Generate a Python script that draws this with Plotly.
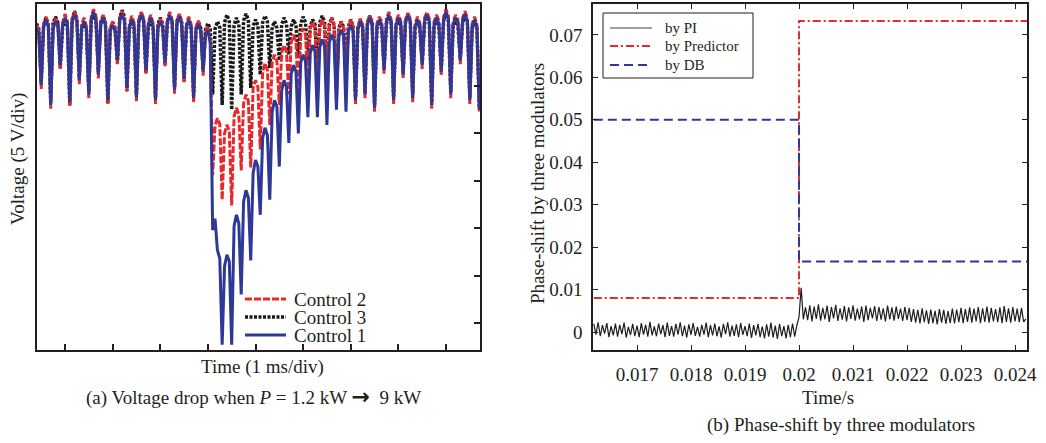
import numpy as np
import plotly.graph_objects as go

W, H = 1046, 443

# ---------------- (a) Voltage drop ----------------
# Knot samples every 0.1 ms from 0.4 ms (alternating crest / dip),
# plus one shoulder sample half-way between consecutive knots.
t_ms = np.round(0.4 + 0.05 * np.arange(187), 2)

control1_knots = [  # blue solid
    31.1, 25.1, 32.0, 23.0, 31.8, 27.2, 32.2, 23.3, 32.5, 25.6, 31.8, 24.1, 32.8, 26.2, 32.2, 23.5,
    31.4, 27.7, 32.6, 24.8, 32.0, 23.8, 32.5, 26.7, 32.2, 23.5, 31.8, 27.5, 32.5, 24.6, 32.3, 25.8,
    32.0, 23.7, 31.5, 26.5, 30.9,
    9.8, 7.7, -2.3, 7.2, -2.3, 11.4, 3.0, 14.0, 6.6, 17.2, 11.4, 20.6, 13.0, 23.5, 16.5, 25.6,
    19.0, 27.2, 20.0, 28.3, 21.7, 29.3, 21.7, 29.9, 20.9, 30.4, 22.5, 30.9, 22.3, 31.4,
    23.5, 31.8, 24.1, 32.2, 22.7, 32.0, 26.7, 32.5, 23.5, 32.2, 26.2, 32.4, 23.7, 32.0, 27.2,
    32.5, 23.0, 32.2, 26.5, 32.8, 24.1, 32.2, 27.7, 32.6, 23.5, 32.0, 22.5,
]
control1_shoulders = [
    30.6, 31.2, 31.3, 31.0, 31.5, 31.4, 31.6, 31.8, 31.9, 31.2, 31.0, 32.0, 32.1, 31.5, 31.4, 30.8,
    30.9, 31.9, 31.8, 31.2, 31.4, 31.7, 31.9, 31.5, 31.3, 31.0, 31.2, 31.8, 31.7, 31.6, 31.5, 31.3,
    31.2, 30.9, 30.8, 30.3,
    29.5,
    11.0, 6.8, 6.0, 6.5, 10.2, 10.5, 12.8, 13.2, 15.8, 16.5, 19.5, 19.8, 22.3, 22.8, 24.5, 24.9,
    26.3, 26.5, 27.5, 27.6, 28.5, 28.6, 29.1, 29.2, 29.6, 29.8, 30.2, 30.3, 30.7, 30.8,
    31.0, 31.2, 31.5, 31.4, 31.3, 31.5, 31.8, 31.7, 31.4, 31.6, 31.7, 31.8, 31.2, 31.4, 31.9,
    31.8, 31.5, 31.6, 32.0, 32.1, 31.5, 31.7, 31.9, 31.8, 31.3, 31.2,
]

control2_knots = [  # red dashed
    31.4, 24.7, 32.3, 22.6, 32.1, 26.8, 32.6, 22.9, 32.8, 25.2, 32.2, 23.7, 33.1, 25.8, 32.5, 23.1,
    31.8, 27.3, 32.9, 24.4, 32.4, 23.4, 32.8, 26.3, 32.5, 23.1, 32.1, 27.1, 32.8, 24.2, 32.6, 25.4,
    32.3, 23.3, 31.9, 26.1, 31.3,
    15.6, 21.6, 13.0, 20.9, 12.4, 22.7, 16.1, 24.1, 16.4, 25.6, 18.3, 27.4, 20.9, 28.3, 23.0, 29.3,
    24.1, 30.4, 23.5, 31.1, 25.1, 31.8, 23.0, 32.0, 25.6, 32.2, 23.5, 31.8, 26.2, 32.0,
    23.1, 32.1, 23.7, 32.5, 22.3, 32.3, 26.3, 32.8, 23.1, 32.5, 25.8, 32.7, 23.3, 32.3, 26.8,
    32.8, 22.6, 32.5, 26.1, 33.1, 23.7, 32.5, 27.3, 32.9, 23.1, 32.3, 22.1,
]
control2_shoulders = [
    30.9, 31.5, 31.6, 31.3, 31.8, 31.7, 31.9, 32.1, 32.2, 31.5, 31.3, 32.3, 32.4, 31.8, 31.7, 31.1,
    31.2, 32.2, 32.1, 31.5, 31.7, 32.0, 32.2, 31.8, 31.6, 31.3, 31.5, 32.1, 32.0, 31.9, 31.8, 31.6,
    31.5, 31.2, 31.1, 30.6,
    29.8,
    20.8, 21.0, 20.0, 20.2, 21.8, 22.0, 23.2, 23.4, 24.8, 24.9, 26.5, 26.7, 27.5, 27.6, 28.5, 28.6,
    29.6, 29.7, 30.3, 30.4, 31.0, 31.1, 31.2, 31.3, 31.4, 31.5, 31.0, 31.1, 31.2, 31.3,
    31.3, 31.5, 31.8, 31.7, 31.6, 31.8, 32.1, 32.0, 31.7, 31.9, 32.0, 32.1, 31.5, 31.7, 32.2,
    32.1, 31.8, 31.9, 32.3, 32.4, 31.8, 32.0, 32.2, 32.1, 31.6, 31.5,
]

control3_knots = [  # black dotted
    31.6, 25.4, 32.2, 23.4, 32.3, 26.9, 31.9, 23.0, 32.9, 25.9, 31.5, 24.4, 32.6, 26.5, 32.4, 23.2,
    31.7, 27.4, 33.0, 24.5, 31.8, 24.1, 32.7, 26.4, 31.9, 23.8, 32.2, 27.2, 32.3, 24.9, 32.5, 25.5,
    31.8, 24.0, 31.8, 26.8, 31.6,
    24.1, 31.8, 23.0, 32.5, 22.5, 32.2, 24.1, 32.6, 24.8, 32.0, 26.2, 32.4, 26.9, 31.8, 27.7, 32.2,
    28.3, 32.0, 28.0, 32.3, 27.5, 32.0, 26.7, 32.4, 25.6, 32.2, 24.6, 31.8, 26.7, 32.0,
    23.8, 31.9, 24.3, 32.4, 23.0, 31.8, 26.9, 32.3, 23.8, 32.0, 26.4, 32.6, 24.0, 31.8, 27.4,
    32.3, 23.3, 32.0, 26.8, 32.6, 24.4, 32.0, 27.9, 32.4, 23.8, 31.8, 22.8,
]
control3_shoulders = [
    31.0, 31.4, 31.5, 31.6, 31.7, 31.2, 31.3, 32.0, 32.1, 31.0, 30.9, 31.8, 31.9, 31.7, 31.6, 31.0,
    31.1, 32.2, 32.3, 31.0, 31.1, 31.9, 32.0, 31.2, 31.2, 31.5, 31.6, 31.6, 31.7, 31.8, 31.7, 31.1,
    31.0, 31.0, 31.1, 30.9,
    31.0,
    31.0, 31.2, 31.7, 31.8, 31.4, 31.5, 31.9, 32.0, 31.3, 31.4, 31.7, 31.8, 31.2, 31.1, 31.5, 31.6,
    31.3, 31.4, 31.6, 31.7, 31.3, 31.5, 31.7, 31.8, 31.5, 31.4, 31.1, 31.2, 31.3, 31.2,
    31.1, 31.2, 31.6, 31.7, 31.1, 31.1, 31.6, 31.7, 31.3, 31.4, 31.9, 31.9, 31.1, 31.1, 31.6,
    31.6, 31.3, 31.4, 31.9, 31.8, 31.3, 31.4, 31.7, 31.6, 31.1, 31.0,
]

volt_ticks = [0, 5, 10, 15, 20, 25]
time_ticks_ms = [1, 2, 3, 4, 5, 6, 7, 8, 9]

# ---------------- (b) Phase-shift by three modulators ----------------
t_s = np.round(0.0162 + 0.00004 * np.arange(201), 5)

phase_pi = [
    0.0019, -0.0006, 0.0023, -0.0010, 0.0016, -0.0004, 0.0021, -0.0012, 0.0014, -0.0008,
    0.0020, -0.0011, 0.0017, -0.0005, 0.0022, -0.0013, 0.0012, -0.0007, 0.0019, -0.0010,
    0.0015, -0.0012, 0.0021, -0.0006, 0.0017, -0.0011, 0.0024, -0.0008, 0.0013, -0.0010,
    0.0020, -0.0005, 0.0016, -0.0012, 0.0022, -0.0009, 0.0014, -0.0011, 0.0019, -0.0006,
    0.0023, -0.0010, 0.0015, -0.0013, 0.0018, -0.0007, 0.0021, -0.0009, 0.0012, -0.0011,
    0.0017, -0.0006, 0.0022, -0.0012, 0.0016, -0.0008, 0.0020, -0.0010, 0.0013, -0.0013,
    0.0019, -0.0005, 0.0023, -0.0011, 0.0015, -0.0009, 0.0018, -0.0012, 0.0021, -0.0007,
    0.0014, -0.0010, 0.0020, -0.0014, 0.0016, -0.0008, 0.0019, -0.0012, 0.0013, -0.0015,
    0.0018, -0.0011, 0.0022, -0.0013, 0.0015, -0.0016, 0.0019, -0.0010, 0.0014, -0.0015,
    0.0017, -0.0012, 0.0020, -0.0011, 0.0016,
    0.0035, 0.0104, 0.0030,
    0.0058, 0.0028, 0.0063, 0.0025, 0.0060, 0.0031, 0.0065, 0.0027, 0.0057, 0.0030,
    0.0062, 0.0024, 0.0059, 0.0032, 0.0064, 0.0026, 0.0056, 0.0029, 0.0061, 0.0025,
    0.0058, 0.0031, 0.0063, 0.0027, 0.0055, 0.0030, 0.0060, 0.0024, 0.0062, 0.0028,
    0.0057, 0.0032, 0.0061, 0.0026, 0.0059, 0.0029, 0.0056, 0.0025, 0.0062, 0.0030,
    0.0058, 0.0027, 0.0060, 0.0031, 0.0055, 0.0026, 0.0059, 0.0028, 0.0057, 0.0024,
    0.0054, 0.0022, 0.0052, 0.0020, 0.0056, 0.0023, 0.0051, 0.0019, 0.0053, 0.0021,
    0.0050, 0.0018, 0.0054, 0.0022, 0.0052, 0.0019, 0.0049, 0.0021, 0.0055, 0.0020,
    0.0053, 0.0023, 0.0057, 0.0021, 0.0054, 0.0024, 0.0058, 0.0022, 0.0055, 0.0025,
    0.0059, 0.0021, 0.0056, 0.0024, 0.0060, 0.0022, 0.0057, 0.0025, 0.0054, 0.0023,
    0.0058, 0.0021, 0.0061, 0.0024, 0.0056, 0.0022, 0.0059, 0.0025, 0.0055, 0.0023,
    0.0057, 0.0024, 0.0031,
]

t_step = [0.0162, 0.0200, 0.02425]
phase_predictor = [0.0080, 0.0733, 0.0733]
phase_db = [0.0500, 0.0166, 0.0166]

phase_ticks = [0, 0.01, 0.02, 0.03, 0.04, 0.05, 0.06, 0.07]
phase_tick_text = ["0", "0.01", "0.02", "0.03", "0.04", "0.05", "0.06", "0.07"]
time_ticks_s = [0.017, 0.018, 0.019, 0.020, 0.021, 0.022, 0.023, 0.024]
time_tick_text = ["0.017", "0.018", "0.019", "0.02", "0.021", "0.022", "0.023", "0.024"]

RED = "#e8282b"
BLUE = "#2e3896"
BLACK = "#1a1a1a"
INK = "#231f20"
FONT = "Liberation Serif"


def weave(knots, shoulders):
    """Interleave knot and shoulder samples into one trace."""
    out = []
    for k, s in zip(knots, shoulders):
        out += [k, s]
    out.append(knots[-1])
    return out


fig = go.Figure()

# (a) traces: black underneath, blue on top
fig.add_trace(go.Scatter(x=t_ms, y=weave(control3_knots, control3_shoulders), mode="lines",
                         name="Control 3", line=dict(color=BLACK, width=3.5, dash="3px,1.5px"),
                         xaxis="x", yaxis="y"))
fig.add_trace(go.Scatter(x=t_ms, y=weave(control2_knots, control2_shoulders), mode="lines",
                         name="Control 2", line=dict(color=RED, width=3, dash="7px,2px"),
                         xaxis="x", yaxis="y"))
fig.add_trace(go.Scatter(x=t_ms, y=weave(control1_knots, control1_shoulders), mode="lines",
                         name="Control 1", line=dict(color=BLUE, width=3), xaxis="x", yaxis="y"))

# (b) traces
fig.add_trace(go.Scatter(x=t_s, y=phase_pi, mode="lines", name="by PI",
                         line=dict(color="#1e1e1e", width=1.2), xaxis="x2", yaxis="y2"))
fig.add_trace(go.Scatter(x=t_step, y=phase_predictor, mode="lines", name="by Predictor", line_shape="hv",
                         line=dict(color=RED, width=2, dash="8px,3px,2px,3px"), xaxis="x2", yaxis="y2"))
fig.add_trace(go.Scatter(x=t_step, y=phase_db, mode="lines", name="by DB", line_shape="hv",
                         line=dict(color=BLUE, width=2, dash="9px,5px"), xaxis="x2", yaxis="y2"))


def px(x):
    return x / W


def py(y):
    return (H - y) / H


ydom = [py(350), py(4)]
common = dict(showgrid=False, zeroline=False, showline=True, linecolor=INK, tickcolor=INK,
              ticks="inside", automargin=False)

fig.update_layout(
    width=W, height=H, margin=dict(l=0, r=0, t=0, b=0, autoexpand=False),
    paper_bgcolor="white", plot_bgcolor="white", showlegend=False,
    font=dict(family=FONT, color=INK),
    xaxis=dict(domain=[px(37), px(480)], range=[0.412, 9.714], tickvals=time_ticks_ms,
               showticklabels=False, ticklen=6, tickwidth=1.5, linewidth=2, mirror="ticks",
               anchor="y", **common),
    yaxis=dict(domain=ydom, range=[-2.85, 33.65], tickvals=volt_ticks, side="right",
               showticklabels=False, ticklen=6, tickwidth=1.5, linewidth=2, mirror=True,
               anchor="x", **common),
    xaxis2=dict(domain=[px(593), px(1027)], range=[0.016185, 0.024222], tickvals=time_ticks_s,
                ticktext=time_tick_text, ticklen=5, tickwidth=1.2, linewidth=1.5, mirror="ticks",
                tickfont=dict(family=FONT, size=19, color=INK), ticklabelstandoff=6,
                anchor="y2", **common),
    yaxis2=dict(domain=ydom, range=[-0.00424, 0.0773], tickvals=phase_ticks, ticktext=phase_tick_text,
                ticklen=5, tickwidth=1.2, linewidth=1.5, mirror="ticks",
                tickfont=dict(family=FONT, size=19, color=INK), ticklabelstandoff=5,
                anchor="x2", **common),
)

ann = []


def label(text, x, y, size=19, angle=0, xanchor="center"):
    ann.append(dict(text=text, x=px(x), y=py(y), xref="paper", yref="paper", showarrow=False,
                    xanchor=xanchor, yanchor="middle", textangle=angle,
                    font=dict(family=FONT, size=size, color=INK)))


label("Voltage (5 V/div)", 18, 159, angle=-90)
label("Time (1 ms/div)", 262, 367)
label("(a) Voltage drop when <i>P</i> = 1.2 kW "
      "<span style='font-family:DejaVu Sans;font-size:22px'><b>\u2192</b></span>  9 kW", 253, 396)
label("Phase-shift by three modulators", 537, 184, angle=-90)
label("Time/s", 828, 397)
label("(b) Phase-shift by three modulators", 841, 425)

# legend for (a)
shapes = []
legend_a = [("Control 2", RED, "7px,2px", 3, 299), ("Control 3", BLACK, "3px,1.5px", 3.5, 317),
            ("Control 1", BLUE, "solid", 3, 335)]
for name, col, dash, w, y in legend_a:
    shapes.append(dict(type="line", xref="paper", yref="paper", x0=px(245), x1=px(286), y0=py(y), y1=py(y),
                       line=dict(color=col, width=w, dash=dash)))
    label(name, 292, y, size=19, xanchor="left")

# legend for (b)
shapes.append(dict(type="rect", xref="paper", yref="paper", x0=px(603), x1=px(753), y0=py(78), y1=py(13),
                   line=dict(color=INK, width=1), fillcolor="white", layer="above"))
legend_b = [("by PI", "#444444", "solid", 1.2, 28), ("by Predictor", RED, "8px,3px,2px,3px", 2, 46),
            ("by DB", BLUE, "9px,5px", 2, 65)]
for name, col, dash, w, y in legend_b:
    shapes.append(dict(type="line", xref="paper", yref="paper", x0=px(610), x1=px(652), y0=py(y), y1=py(y),
                       line=dict(color=col, width=w, dash=dash), layer="above"))
    label(name, 663, y, size=15, xanchor="left")

fig.update_layout(annotations=ann, shapes=shapes)
fig.write_html("out.html")
